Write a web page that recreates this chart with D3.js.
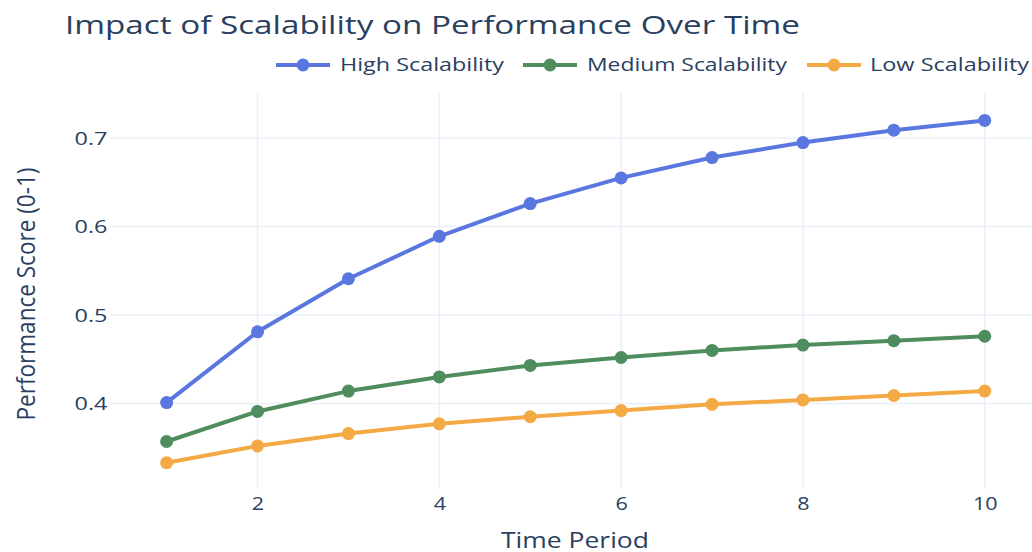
<!DOCTYPE html>
<html>
<head>
<meta charset="utf-8">
<script src="https://cdn.jsdelivr.net/npm/d3@7"></script>
<style>
  html, body { margin: 0; padding: 0; background: #fff; }
  svg { display: block; font-family: "Open Sans", "DejaVu Sans", sans-serif; }
</style>
</head>
<body>
<svg id="chart" width="1032" height="552"></svg>
<script>
// Performance scores per time period for three scalability levels
const periods = [1, 2, 3, 4, 5, 6, 7, 8, 9, 10];
const highScalability   = [0.401, 0.481, 0.541, 0.589, 0.626, 0.655, 0.678, 0.695, 0.709, 0.720];
const mediumScalability = [0.357, 0.391, 0.414, 0.430, 0.443, 0.452, 0.460, 0.466, 0.471, 0.476];
const lowScalability    = [0.333, 0.352, 0.366, 0.377, 0.385, 0.392, 0.399, 0.404, 0.409, 0.414];
const seriesNames = ["High Scalability", "Medium Scalability", "Low Scalability"];
const xTicks = [2, 4, 6, 8, 10];
const yTicks = [0.4, 0.5, 0.6, 0.7];

const colors = ["#5a77e0", "#4f8c5e", "#f4aa44"];
const series = [highScalability, mediumScalability, lowScalability].map((vals, i) => ({
  name: seriesNames[i],
  color: colors[i],
  points: periods.map((p, j) => ({ x: p, y: vals[j] }))
}));

const svg = d3.select("#chart");
const textColor = "#2a3f5f";
const gridColor = "#ebf0f8";
const plot = { left: 110, right: 1032, top: 93, bottom: 489 };

const x = d3.scaleLinear().domain([0.377, 10.52]).range([plot.left, plot.right]);
const y = d3.scaleLinear().domain([0.3033, 0.751]).range([plot.bottom, plot.top]);

// Gridlines
const grid = svg.append("g");
grid.selectAll("line.v").data(xTicks).join("line")
  .attr("x1", d => x(d)).attr("x2", d => x(d))
  .attr("y1", plot.top).attr("y2", plot.bottom)
  .attr("stroke", gridColor).attr("stroke-width", 1.5);
grid.selectAll("line.h").data(yTicks).join("line")
  .attr("x1", plot.left).attr("x2", plot.right)
  .attr("y1", d => y(d)).attr("y2", d => y(d))
  .attr("stroke", gridColor).attr("stroke-width", 1.5);

// Axes (labels only; domain and tick marks hidden)
const xAxis = svg.append("g")
  .attr("transform", `translate(0,${plot.bottom})`)
  .call(d3.axisBottom(x).tickValues(xTicks).tickSize(0).tickPadding(8).tickFormat(d3.format("d")));
const yAxis = svg.append("g")
  .attr("transform", `translate(${plot.left},0)`)
  .call(d3.axisLeft(y).tickValues(yTicks).tickSize(0).tickPadding(2).tickFormat(d3.format(".1f")));
[xAxis, yAxis].forEach(a => {
  a.select(".domain").remove();
  a.selectAll("text").attr("fill", textColor).attr("font-size", 18)
    .attr("font-family", "'Open Sans', sans-serif");
});
xAxis.selectAll("text").attr("transform", "scale(1.2,1)");
yAxis.selectAll("text").attr("transform", "scale(1.3,1)").attr("dy", "0.35em");

// Lines and markers
const line = d3.line().x(d => x(d.x)).y(d => y(d.y));
const traces = svg.append("g");
series.forEach(s => {
  traces.append("path").datum(s.points)
    .attr("d", line).attr("fill", "none")
    .attr("stroke", s.color).attr("stroke-width", 4)
    .attr("stroke-linejoin", "round");
  traces.selectAll(null).data(s.points).join("circle")
    .attr("cx", d => x(d.x)).attr("cy", d => y(d.y)).attr("r", 6.5)
    .attr("fill", s.color);
});

// Title
svg.append("text")
  .attr("x", 65).attr("y", 34)
  .attr("font-size", 25).attr("fill", textColor)
  .attr("textLength", 735).attr("lengthAdjust", "spacingAndGlyphs")
  .text("Impact of Scalability on Performance Over Time");

// Axis titles
svg.append("text")
  .attr("x", 575).attr("y", 548).attr("text-anchor", "middle")
  .attr("font-size", 21).attr("fill", textColor)
  .attr("textLength", 148).attr("lengthAdjust", "spacingAndGlyphs")
  .text("Time Period");
svg.append("text")
  .attr("transform", `translate(35,${(plot.top + plot.bottom) / 2 + 3}) rotate(-90)`)
  .attr("text-anchor", "middle")
  .attr("font-size", 25).attr("fill", textColor)
  .attr("textLength", 253).attr("lengthAdjust", "spacingAndGlyphs")
  .text("Performance Score (0-1)");

// Legend
const legendItems = [
  { lineX: 276, textX: 340, textW: 164 },
  { lineX: 523, textX: 587, textW: 200 },
  { lineX: 807, textX: 870, textW: 159 }
];
const legend = svg.append("g");
series.forEach((s, i) => {
  const it = legendItems[i];
  legend.append("line")
    .attr("x1", it.lineX).attr("x2", it.lineX + 54)
    .attr("y1", 65).attr("y2", 65)
    .attr("stroke", s.color).attr("stroke-width", 4);
  legend.append("circle")
    .attr("cx", it.lineX + 27).attr("cy", 65).attr("r", 6.5).attr("fill", s.color);
  legend.append("text")
    .attr("x", it.textX).attr("y", 71)
    .attr("font-size", 18).attr("fill", textColor)
    .attr("textLength", it.textW).attr("lengthAdjust", "spacingAndGlyphs")
    .text(s.name);
});
</script>
</body>
</html>
